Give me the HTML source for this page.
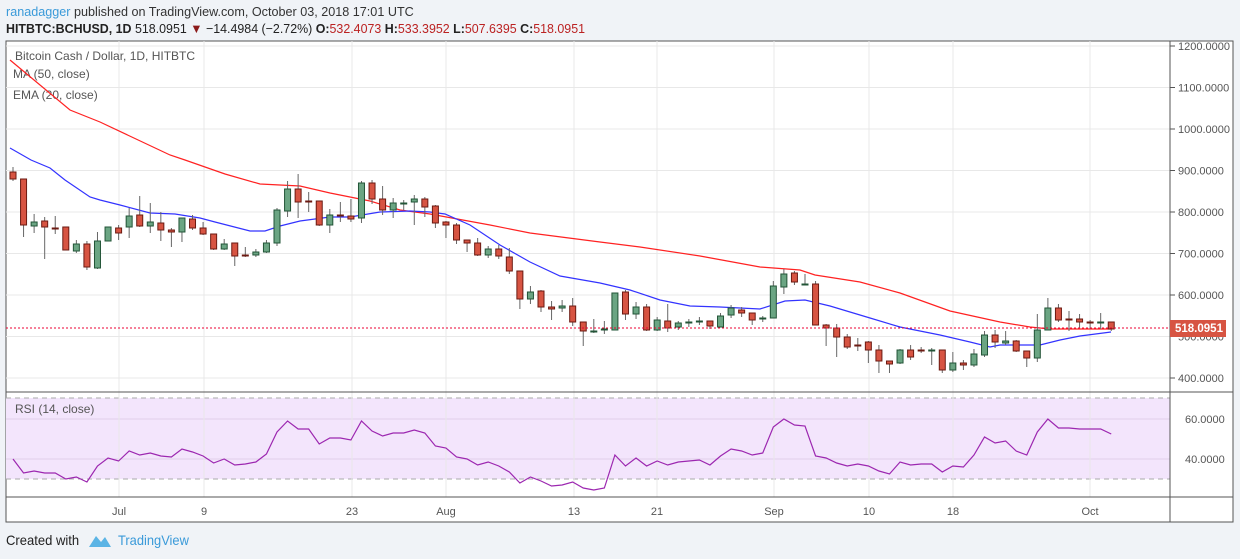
<!DOCTYPE html>
<html><head><meta charset="utf-8"><style>
body{margin:0;width:1240px;height:559px;background:#f0f3f7;font-family:"Liberation Sans",sans-serif;overflow:hidden;position:relative}
.t{position:absolute;white-space:nowrap}
</style></head><body>
<div class="t" style="left:6px;top:4px;font-size:13px;color:#333;transform:scaleX(0.97);transform-origin:0 0"><span style="color:#3a9ad9">ranadagger</span> published on TradingView.com, October 03, 2018 17:01 UTC</div>
<div class="t" style="left:6px;top:21px;font-size:13px;color:#222;transform:scaleX(0.955);transform-origin:0 0"><b>HITBTC:BCHUSD, 1D</b> 518.0951 <span style="color:#8b1a1a">▼</span> −14.4984 (−2.72%) <b>O:</b><span style="color:#b22">532.4073</span> <b>H:</b><span style="color:#b22">533.3952</span> <b>L:</b><span style="color:#b22">507.6395</span> <b>C:</b><span style="color:#b22">518.0951</span></div>
<svg id="s" width="1240" height="559" style="position:absolute;left:0;top:0" font-family="Liberation Sans, sans-serif"></svg>
<div class="t" style="left:6px;top:532px;font-size:14px;color:#222;transform:scaleX(0.93);transform-origin:0 0">Created with</div>
<svg style="position:absolute;left:88px;top:533px" width="24" height="16"><path d="M1 14 L8 3 L13 9 L17 4 L23 14 Z" fill="#5bb4e5"/></svg>
<div class="t" style="left:118px;top:532px;font-size:14px;color:#3a9ad9;transform:scaleX(0.92);transform-origin:0 0">TradingView</div>
<script>
const s=document.getElementById('s');let h='';
h+='<rect x="6" y="41" width="1227" height="481" fill="#fff" stroke="#555"/>';
h+='<rect x="6" y="398" width="1164" height="81" fill="#f3e5fc"/>';
const px=p=>46+(1200-p)*0.415;
for(let p=400;p<=1200;p+=100){const y=px(p);h+=`<line x1="6" x2="1170" y1="${y}" y2="${y}" stroke="#e8e8e8"/><line x1="1170" x2="1175" y1="${y}" y2="${y}" stroke="#555"/><text x="1178" y="${y+4}" font-size="11" fill="#555">${p}.0000</text>`}
[419,459].forEach((y,i)=>{h+=`<line x1="6" x2="1170" y1="${y}" y2="${y}" stroke="#e0d0ea"/><text x="1185" y="${y+4}" font-size="11" fill="#555">${i?40:60}.0000</text>`});
[398,479].forEach(y=>h+=`<line x1="6" x2="1170" y1="${y}" y2="${y}" stroke="#aaa" stroke-dasharray="5,4"/>`);
const dates=[[119,'Jul'],[204,'9'],[352,'23'],[446,'Aug'],[574,'13'],[657,'21'],[774,'Sep'],[869,'10'],[953,'18'],[1090,'Oct']];
dates.forEach(([x,l])=>{h+=`<line x1="${x}" x2="${x}" y1="41" y2="497" stroke="#e8e8e8"/><text x="${x}" y="515" font-size="11" fill="#555" text-anchor="middle">${l}</text>`});
h+='<line x1="6" x2="1233" y1="392" y2="392" stroke="#555"/><line x1="6" x2="1233" y1="497" y2="497" stroke="#555"/><line x1="1170" x2="1170" y1="41" y2="522" stroke="#555"/>';
h+='<text x="15" y="60" font-size="12" fill="#555">Bitcoin Cash / Dollar, 1D, HITBTC</text><text x="13" y="78" font-size="12" fill="#555">MA (50, close)</text><text x="13" y="99" font-size="12" fill="#555">EMA (20, close)</text><text x="15" y="413" font-size="12" fill="#555">RSI (14, close)</text>';
const pl=(a,c,w)=>`<polyline fill="none" stroke="${c}" stroke-width="${w}" points="${a.map(p=>p.join(',')).join(' ')}"/>`;
h+=pl([[10,60],[70,110],[100,122],[170,155],[185,160],[225,174],[260,184],[300,186],[330,193],[370,201],[400,210],[430,214],[490,225],[530,233],[600,242],[640,247],[700,256],[760,267],[800,270],[815,275],[860,282],[900,293],[950,311],[1000,322],[1030,327],[1050,329],[1111,329]],'#f22',1.2);
h+=pl([[10,148],[31,160],[50,168],[65,180],[90,197],[100,200],[120,205],[150,213],[175,214],[200,218],[215,222],[250,231],[265,231],[280,226],[300,221],[330,217],[350,217],[380,212],[410,211],[430,212],[445,214],[470,225],[500,245],[530,262],[560,276],[600,283],[630,290],[660,300],[690,306],[720,307],[760,309],[785,301],[805,300],[830,306],[870,318],[900,327],[940,335],[970,342],[990,347],[1000,345],[1040,345],[1060,340],[1080,336],[1111,332]],'#33f',1.2);
const C=[[172,179,167,181],[179,225,179,237],[226,222,214,233],[221,227,217,259],[228,228,216,234],[227,250,227,250],[251,244,240,253],[244,267,241,270],[268,241,232,269],[241,227,227,241],[228,233,225,240],[227,216,208,238],[215,226,196,227],[226,222,203,233],[223,230,212,241],[230,232,228,247],[232,218,218,242],[219,228,215,230],[228,234,222,235],[234,249,234,250],[249,244,239,250],[243,256,243,266],[255,255,247,257],[255,252,249,257],[252,243,240,253],[243,210,208,246],[211,189,181,217],[189,202,174,218],[201,201,192,212],[201,225,201,226],[225,215,209,233],[215,216,202,222],[216,219,199,222],[218,183,181,223],[183,199,180,204],[199,210,186,215],[210,203,198,218],[203,203,200,210],[202,199,195,225],[199,207,197,217],[206,223,205,228],[222,225,221,238],[225,240,223,244],[240,243,240,252],[243,255,238,256],[255,249,246,258],[249,256,245,259],[257,271,248,274],[271,299,271,309],[299,292,286,304],[291,307,290,312],[307,309,301,320],[308,306,300,312],[306,322,298,326],[322,331,322,346],[331,331,319,333],[330,329,321,334],[330,293,293,330],[292,314,290,320],[314,307,302,319],[307,330,304,331],[330,320,317,331],[321,328,304,332],[327,323,321,330],[323,322,319,327],[322,321,317,325],[321,326,321,329],[327,316,313,327],[315,308,305,318],[310,313,307,317],[313,320,313,325],[319,318,316,322],[318,286,281,318],[287,274,269,294],[273,282,271,285],[284,284,274,285],[284,325,281,325],[325,328,324,346],[328,337,324,357],[337,347,334,349],[345,345,338,351],[342,350,341,363],[350,361,345,373],[361,364,361,373],[363,350,349,364],[350,357,345,360],[350,350,347,353],[350,350,348,365],[350,370,350,373],[370,363,352,372],[363,365,360,370],[365,354,349,367],[355,335,331,357],[335,342,330,348],[343,341,331,345],[341,351,340,352],[351,358,351,367],[358,330,314,362],[330,308,298,330],[308,320,304,322],[319,319,311,331],[319,322,314,328],[322,322,320,329],[322,322,313,329],[322,329,322,331]];
C.forEach((c,i)=>{const x=13+i*10.56;const [o,cl,hi,lo]=c;const up=cl<o||(cl==o&&i%2);const f=up?'#6ba583':'#d75442',b=up?'#225437':'#6b1a12';
h+=`<line x1="${x}" x2="${x}" y1="${hi}" y2="${lo}" stroke="#666"/>`;
const t=Math.min(o,cl),hh=Math.max(Math.abs(o-cl),1);h+=`<rect x="${x-3}" y="${t}" width="6" height="${hh}" fill="${f}" stroke="${b}"/>`});
h+='<line x1="6" x2="1170" y1="328" y2="328" stroke="#e03" stroke-dasharray="2,2"/>';
h+='<rect x="1170" y="320" width="56" height="17" fill="#d75442"/><text x="1175" y="332" font-size="11.5" fill="#fff" font-weight="bold">518.0951</text>';
const R=[459,473,471,473,473,479,477,482,466,458,461,451,455,453,456,457,449,452,456,463,459,465,464,462,454,432,421,429,429,444,438,438,440,421,431,436,433,433,430,433,446,448,457,459,465,462,466,472,483,477,481,486,485,482,488,490,488,455,466,458,466,461,465,462,461,460,465,456,449,451,455,453,427,419,425,426,456,458,463,466,464,466,471,474,462,465,464,464,472,466,467,455,437,443,441,451,455,432,419,428,428,429,429,429,434];
h+=pl(R.map((y,i)=>[13+i*10.56,y]),'#9c27b0',1.2);
s.innerHTML=h;
</script>
</body></html>
